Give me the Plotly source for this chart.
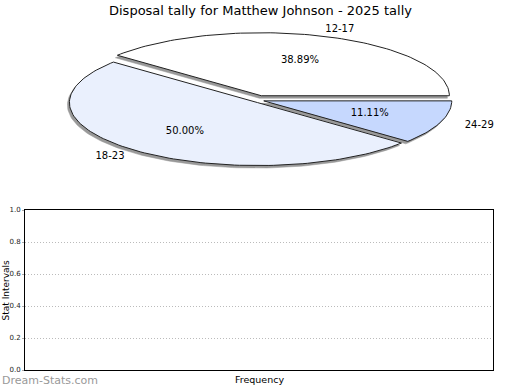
import math
import plotly.graph_objects as go

# ---- data ----
categories = ["12-17", "18-23", "24-29"]
counts = [7, 9, 2]
slice_colors = ["#ffffff", "#eaf0fd", "#c6d8fe"]
y_ticks = [0.0, 0.2, 0.4, 0.6, 0.8, 1.0]
y_tick_labels = ["0.0", "0.2", "0.4", "0.6", "0.8", "1.0"]
title_text = "Disposal tally for Matthew Johnson - 2025 tally"

W, H = 520, 390
FONT = "DejaVu Sans"
TOP_H = 195  # pixel height of the pie region at the top

# pie geometry (pixel space)
CX, CY, RX, RY = 260, 99.5, 188, 63
EXPLODE = 4
SHADOW = (-2, 2.5)
LABEL_FX, LABEL_FY = 1.22, 1.12

fig = go.Figure()

total = sum(counts)
start = 0.0
wedges = []
for cat, val, col in zip(categories, counts, slice_colors):
    span = 2 * math.pi * val / total
    end = start + span
    mid = (start + end) / 2
    ox = EXPLODE * math.cos(mid)
    oy = -EXPLODE * math.sin(mid)
    n = max(8, int(span / (2 * math.pi) * 240))
    xs = [CX + ox]
    ys = [CY + oy]
    for i in range(n + 1):
        t = start + span * i / n
        xs.append(CX + ox + RX * math.cos(t))
        ys.append(CY + oy - RY * math.sin(t))
    xs.append(CX + ox)
    ys.append(CY + oy)
    wedges.append((cat, val, col, xs, ys, mid, ox, oy))
    start = end

# shadows first
for cat, val, col, xs, ys, mid, ox, oy in wedges:
    fig.add_trace(go.Scatter(
        x=[v + SHADOW[0] for v in xs], y=[v + SHADOW[1] for v in ys],
        xaxis="x2", yaxis="y2", mode="lines", fill="toself",
        fillcolor="#999999", line=dict(color="#999999", width=0.5),
        hoverinfo="skip", showlegend=False))

for cat, val, col, xs, ys, mid, ox, oy in wedges:
    fig.add_trace(go.Scatter(
        x=xs, y=ys, xaxis="x2", yaxis="y2", mode="lines", fill="toself",
        fillcolor=col, line=dict(color="#222222", width=1),
        hoverinfo="skip", showlegend=False))

# labels
lab_x, lab_y, lab_t, pct_x, pct_y, pct_t = [], [], [], [], [], []
for cat, val, col, xs, ys, mid, ox, oy in wedges:
    lab_x.append(CX + ox + LABEL_FX * RX * math.cos(mid))
    lab_y.append(CY + oy - LABEL_FY * RY * math.sin(mid))
    lab_t.append(cat)
    pct_x.append(CX + ox + 0.6 * RX * math.cos(mid))
    pct_y.append(CY + oy - 0.6 * RY * math.sin(mid))
    pct_t.append("%.2f%%" % (100.0 * val / total))

fig.add_trace(go.Scatter(x=lab_x, y=lab_y, text=lab_t, mode="text",
                         xaxis="x2", yaxis="y2", textfont=dict(family=FONT, size=10, color="#000"),
                         hoverinfo="skip", showlegend=False, cliponaxis=False))
fig.add_trace(go.Scatter(x=pct_x, y=pct_y, text=pct_t, mode="text",
                         xaxis="x2", yaxis="y2", textfont=dict(family=FONT, size=10, color="#000"),
                         hoverinfo="skip", showlegend=False, cliponaxis=False))

# empty bottom chart
fig.add_trace(go.Scatter(x=[], y=[], xaxis="x", yaxis="y", showlegend=False))

fig.update_layout(
    width=W, height=H, margin=dict(l=0, r=0, t=0, b=0, autoexpand=False),
    paper_bgcolor="white", plot_bgcolor="rgba(0,0,0,0)",
    showlegend=False,
    font=dict(family=FONT, color="#000"),
    xaxis=dict(domain=[25 / W, 493 / W], range=[0, 1], showticklabels=False,
               ticks="", showgrid=False, zeroline=False, showline=True,
               linecolor="#000", linewidth=1, mirror=True, fixedrange=True,
               automargin=False),
    yaxis=dict(domain=[20 / H, 180 / H], range=[0, 1], tickvals=y_ticks,
               ticktext=y_tick_labels, ticks="outside", ticklen=2, tickcolor="#aaa",
               tickfont=dict(family=FONT, size=7, color="#222"),
               showgrid=True, gridcolor="#bbbbbb", griddash="1px,2px", gridwidth=1,
               zeroline=False, showline=True, linecolor="#000", linewidth=1,
               mirror=True, fixedrange=True, automargin=False),
    xaxis2=dict(domain=[0, 1], range=[0, W], visible=False, anchor="y2",
                fixedrange=True, automargin=False),
    yaxis2=dict(domain=[1 - TOP_H / H, 1], range=[TOP_H, 0], visible=False, anchor="x2",
                fixedrange=True, automargin=False),
    annotations=[
        dict(text=title_text, x=0.5, y=1 - 10 / H, xref="paper", yref="paper",
             xanchor="center", yanchor="middle", showarrow=False,
             font=dict(family=FONT, size=13, color="#000")),
        dict(text="Frequency", x=259 / W, y=1 - 379 / H, xref="paper", yref="paper",
             xanchor="center", yanchor="middle", showarrow=False,
             font=dict(family=FONT, size=9.5, color="#000")),
        dict(text="Stat Intervals", x=5.5 / W, y=1 - 290 / H, xref="paper", yref="paper",
             xanchor="center", yanchor="middle", showarrow=False,
             textangle=-90, font=dict(family=FONT, size=9, color="#000")),
        dict(text="Dream-Stats.com", x=0, y=1 - 380 / H, xref="paper", yref="paper",
             xanchor="left", yanchor="middle", showarrow=False,
             font=dict(family=FONT, size=11, color="#999999")),
    ],
)

fig.write_html(
    "out.html",
    config={"displayModeBar": False, "staticPlot": True},
    post_script="document.body.style.margin='0';document.body.style.overflow='hidden';",
)
